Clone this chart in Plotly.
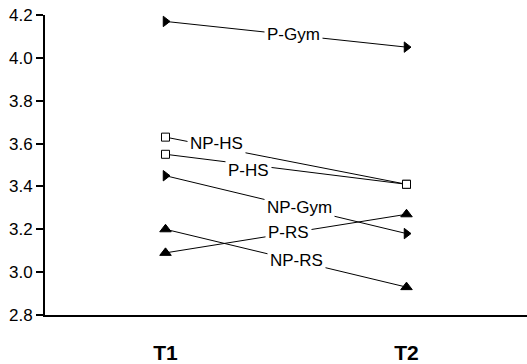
import plotly.graph_objects as go

# Time points and mean scores per group
times = ["T1", "T2"]
groups = ["P-Gym", "NP-HS", "P-HS", "NP-Gym", "P-RS", "NP-RS"]
p_gym = [4.17, 4.05]
np_hs = [3.63, 3.41]
p_hs = [3.55, 3.41]
np_gym = [3.45, 3.18]
p_rs = [3.09, 3.27]
np_rs = [3.20, 2.93]
series = [p_gym, np_hs, p_hs, np_gym, p_rs, np_rs]
y_ticks = [2.8, 3.0, 3.2, 3.4, 3.6, 3.8, 4.0, 4.2]

# Marker style per group: symbol, fill, size
symbols = {
    "P-Gym": ("triangle-right", "black", 9),
    "NP-Gym": ("triangle-right", "black", 9),
    "NP-HS": ("square", "white", 8),
    "P-HS": ("square", "white", 8),
    "P-RS": ("triangle-up", "black", 10),
    "NP-RS": ("triangle-up", "black", 10),
}

# Inline label placement (x in category index units, y in data units)
label_pos = {
    "P-Gym": (1.533, 4.108),
    "NP-HS": (1.212, 3.599),
    "P-HS": (1.346, 3.474),
    "NP-Gym": (1.554, 3.304),
    "P-RS": (1.512, 3.183),
    "NP-RS": (1.542, 3.054),
}

FONT = "Liberation Sans, Arial"
xs = [1, 2]
fig = go.Figure()
for name, vals in zip(groups, series):
    sym, fill, size = symbols[name]
    fig.add_trace(go.Scatter(
        x=xs, y=vals, mode="lines+markers", name=name,
        line=dict(color="black", width=1),
        marker=dict(symbol=sym, color=fill, size=size,
                    line=dict(color="black", width=1)),
        showlegend=False, cliponaxis=False,
    ))
    lx, ly = label_pos[name]
    fig.add_annotation(x=lx, y=ly, text=name, showarrow=False,
                       bgcolor="white", borderpad=2,
                       font=dict(family=FONT, size=17, color="black"))

fig.update_layout(
    width=527, height=364,
    margin=dict(l=45, r=0, t=15, b=46),
    plot_bgcolor="white", paper_bgcolor="white",
    font=dict(family=FONT, size=17, color="black"),
)
fig.update_xaxes(
    range=[0.5, 2.5], tickvals=xs, ticktext=times,
    showgrid=False, zeroline=False,
    showline=True, linecolor="black", linewidth=2,
    ticks="", ticklabelstandoff=18,
    tickfont=dict(family=FONT, size=21, color="black", weight="bold"),
)
fig.update_yaxes(
    range=[2.8, 4.2], tickvals=y_ticks, tickformat=".1f",
    showgrid=False, zeroline=False,
    showline=True, linecolor="black", linewidth=2,
    ticks="outside", ticklen=7, tickwidth=1.5, tickcolor="black",
    tickfont=dict(family=FONT, size=17, color="black"),
)

fig.write_html("out.html")
